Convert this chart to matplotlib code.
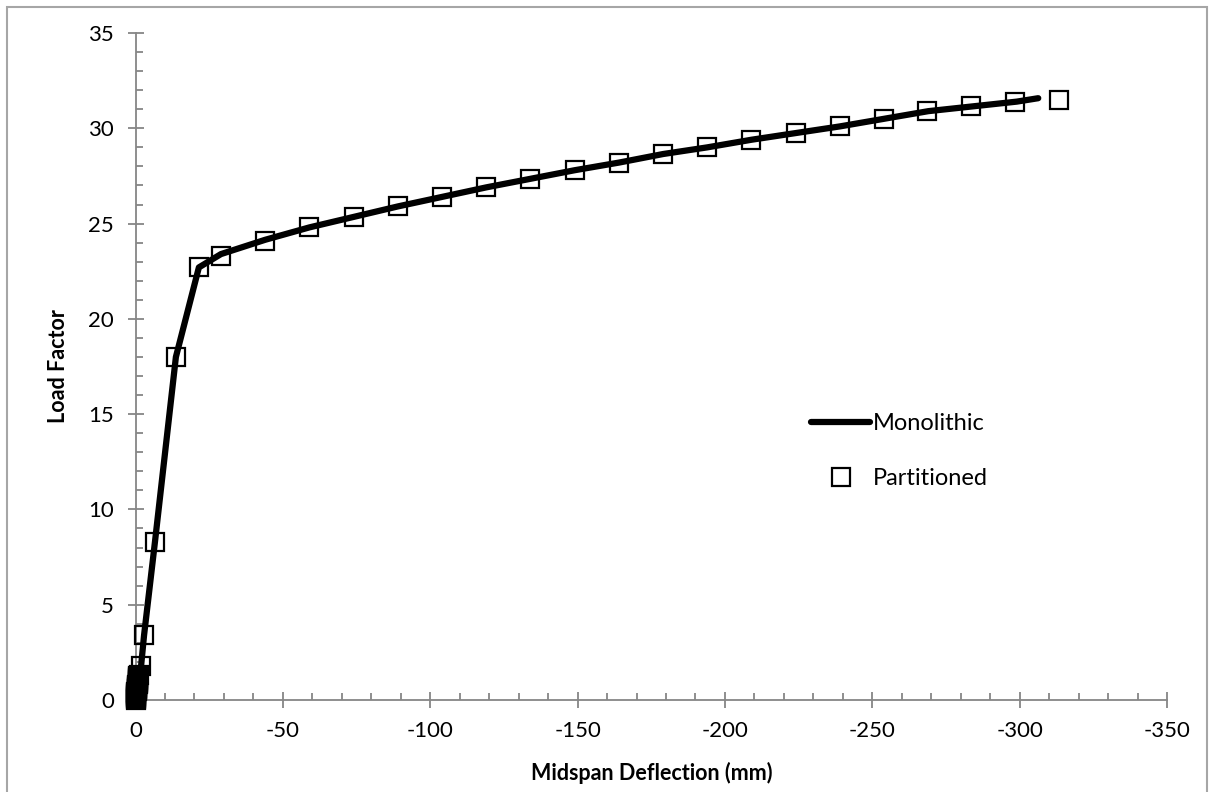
import matplotlib
matplotlib.use("Agg")
import matplotlib.pyplot as plt
from matplotlib.patches import Rectangle
from matplotlib.ticker import MultipleLocator

plt.rcParams['font.family'] = ['Lato', 'DejaVu Sans']
plt.rcParams['axes.unicode_minus'] = False

# Monolithic solution (line)
mono_x = [0.0, -0.3, -0.6, -0.9, -1.2, -1.9, -2.9, -6.6, -13.7, -21.5, -29.0,
          -44.0, -59.0, -74.0, -89.0, -104.0, -119.0, -134.0, -149.0, -164.0,
          -179.0, -194.0, -209.0, -224.0, -239.0, -254.0, -269.0, -284.0,
          -299.0, -306.3]
mono_y = [0.0, 0.3, 0.6, 0.9, 1.2, 1.8, 3.4, 8.3, 18.0, 22.7, 23.4,
          24.15, 24.8, 25.35, 25.9, 26.4, 26.9, 27.35, 27.8, 28.2,
          28.65, 29.0, 29.4, 29.75, 30.1, 30.5, 30.9, 31.15,
          31.4, 31.58]

# Partitioned solution (markers), dense at the start of loading
part_x = [0.0, -0.04, -0.08, -0.12, -0.16, -0.2, -0.24, -0.28, -0.32, -0.36,
          -0.4, -0.44, -0.48, -0.52, -0.56, -0.6, -0.64, -0.68, -0.72, -0.76,
          -0.8, -0.84, -0.88, -0.92, -0.96, -1.0, -1.05,
          -1.9, -2.9, -6.6, -13.7, -21.7, -29.0, -44.0,
          -59.0, -74.0, -89.0, -104.0, -119.0, -134.0, -149.0, -164.0, -179.0,
          -194.0, -209.0, -224.0, -239.0, -254.0, -268.7, -283.6, -298.5, -313.5]
part_y = [0.0, 0.05, 0.1, 0.15, 0.2, 0.25, 0.3, 0.35, 0.4, 0.45,
          0.5, 0.55, 0.6, 0.65, 0.7, 0.75, 0.8, 0.85, 0.9, 0.95,
          1.0, 1.05, 1.1, 1.15, 1.2, 1.25, 1.3,
          1.8, 3.4, 8.3, 18.0, 22.7, 23.3, 24.1,
          24.8, 25.35, 25.9, 26.4, 26.9, 27.35, 27.8, 28.2, 28.65,
          29.0, 29.4, 29.75, 30.1, 30.5, 30.9, 31.15, 31.4, 31.5]

grey = '#868686'

fig = plt.figure(figsize=(12.1, 7.92), dpi=100)
ax = fig.add_axes([0.112, 0.1162, 0.8525, 0.8421])

ax.plot(mono_x, mono_y, color='black', lw=4.5, solid_capstyle='round',
        solid_joinstyle='round', label='Monolithic', clip_on=False, zorder=3)
ax.plot(part_x, part_y, ls='none', marker='s', ms=12.5, mew=1.6,
        mfc='none', mec='black', label='Partitioned', clip_on=False, zorder=4)

ax.set_xlim(0, -350)
ax.set_ylim(0, 35)
ax.xaxis.set_major_locator(MultipleLocator(50))
ax.xaxis.set_minor_locator(MultipleLocator(10))
ax.yaxis.set_major_locator(MultipleLocator(5))
ax.yaxis.set_minor_locator(MultipleLocator(1))

for s in ['top', 'right']:
    ax.spines[s].set_visible(False)
for s in ['left', 'bottom']:
    ax.spines[s].set_color(grey)
    ax.spines[s].set_linewidth(1.3)
    ax.spines[s].set_zorder(1)

ax.tick_params(which='major', direction='inout', length=11, width=1.3,
               color=grey, labelsize=16, labelcolor='black', pad=10)
ax.tick_params(which='minor', direction='in', length=5, width=1.3, color=grey)

ax.set_xlabel('Midspan Deflection (mm)', fontsize=15.5, fontweight='bold', labelpad=15)
ax.set_ylabel('Load Factor', fontsize=15.5, fontweight='bold', labelpad=14)

ax.legend(loc='upper left', bbox_to_anchor=(0.655, 0.43), frameon=False,
          fontsize=17, handlelength=2.5, handletextpad=0.1, labelspacing=1.45,
          borderpad=0, borderaxespad=0)

fig.patches.append(Rectangle((7 / 1210, -0.02), 1200 / 1210, (785 / 792) + 0.02,
                             transform=fig.transFigure, fill=False,
                             edgecolor='#a6a6a6', lw=1.5))

fig.savefig('out.png', dpi=100)
